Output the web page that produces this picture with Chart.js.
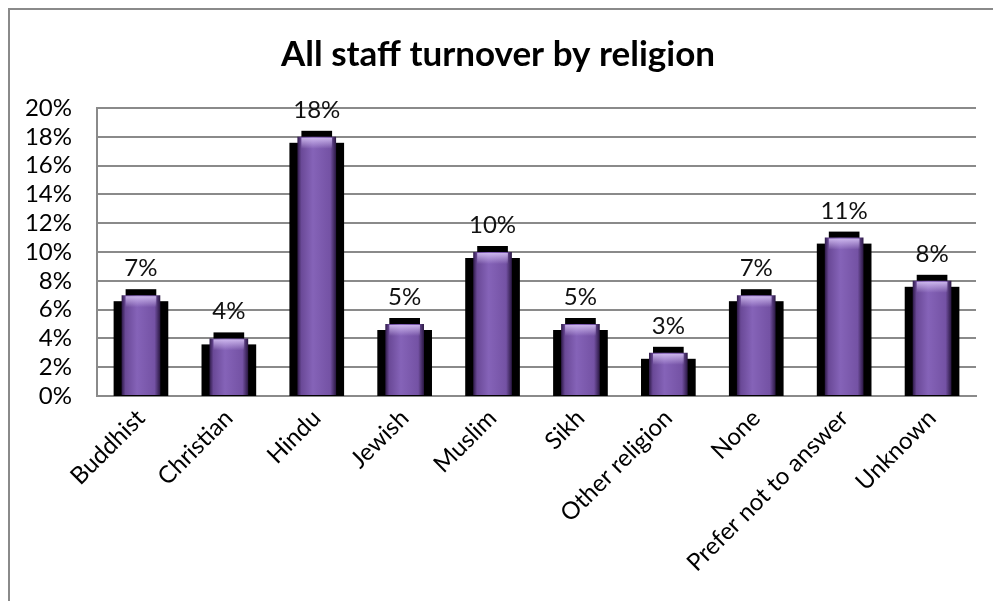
<!DOCTYPE html>
<html>
<head>
<meta charset="utf-8">
<script src="https://cdn.jsdelivr.net/npm/chart.js@4.4.1/dist/chart.umd.min.js"></script>
<style>
    html, body { margin: 0; padding: 0; background: #fff; }
    #wrap { position: relative; width: 993px; height: 601px; }
    #frame {
        position: absolute; left: 8px; top: 8px; right: -10px; bottom: -10px;
        border-left: 2px solid #8a8a8a; border-top: 2px solid #8a8a8a;
        pointer-events: none;
    }
</style>
</head>
<body>
<div id="wrap">
    <canvas id="chart" width="993" height="601"></canvas>
    <div id="frame"></div>
</div>
<script>
// Data
const religions = ["Buddhist", "Christian", "Hindu", "Jewish", "Muslim", "Sikh",
    "Other religion", "None", "Prefer not to answer", "Unknown"];
const turnover = [0.07, 0.04, 0.18, 0.05, 0.10, 0.05, 0.03, 0.07, 0.11, 0.08];
const yTicks = [0, 0.02, 0.04, 0.06, 0.08, 0.10, 0.12, 0.14, 0.16, 0.18, 0.20];

const FONT = "Lato, 'Open Sans', sans-serif";
const BAR_PCT = 0.44;

// purple fill with darker edges, built per bar from the x scale
function barFill(ctx) {
    const chart = ctx.chart;
    const xs = chart.scales.x;
    if (!chart.chartArea || !xs) return "#7b58ab";
    const cx = xs.getPixelForValue(ctx.dataIndex);
    const half = xs.width / religions.length * BAR_PCT / 2;
    const g = chart.ctx.createLinearGradient(cx - half, 0, cx + half, 0);
    g.addColorStop(0, "#2e1a48");
    g.addColorStop(0.1, "#6a4997");
    g.addColorStop(0.4, "#8563b8");
    g.addColorStop(0.85, "#7452a4");
    g.addColorStop(1, "#2a1742");
    return g;
}

// black 3D-ish backing behind each bar, plus highlight and value labels
const shadowPlugin = {
    id: "shadow",
    beforeDatasetsDraw(chart) {
        const c = chart.ctx;
        const meta = chart.getDatasetMeta(0);
        c.save();
        c.fillStyle = "#000";
        meta.data.forEach((bar) => {
            const w = bar.width;
            c.fillRect(bar.x - w / 2 + 4, bar.y - 6, w - 8, 10);
            c.fillRect(bar.x - w / 2 - 8, bar.y + 6, w + 16, bar.base - bar.y - 5);
        });
        c.restore();
    },
    afterDatasetsDraw(chart) {
        const c = chart.ctx;
        const meta = chart.getDatasetMeta(0);
        c.save();
        meta.data.forEach((bar, i) => {
            const w = bar.width;
            const left = bar.x - w / 2;
            const g = c.createLinearGradient(0, bar.y, 0, bar.y + 12);
            g.addColorStop(0, "rgba(215,195,245,0.95)");
            g.addColorStop(1, "rgba(215,195,245,0)");
            c.fillStyle = g;
            c.fillRect(left + 4, bar.y + 1, w - 8, 11);
            c.fillStyle = "#111";
            c.font = "24px " + FONT;
            c.textAlign = "center";
            c.textBaseline = "alphabetic";
            c.fillText(Math.round(turnover[i] * 100) + "%", bar.x, bar.y - 19);
        });
        c.restore();
    }
};

new Chart(document.getElementById("chart"), {
    type: "bar",
    data: {
        labels: religions,
        datasets: [
            {
                label: "Turnover",
                data: turnover,
                backgroundColor: barFill,
                borderWidth: 0,
                categoryPercentage: 1,
                barPercentage: BAR_PCT,
            },
        ],
    },
    plugins: [shadowPlugin],
    options: {
        responsive: false,
        animation: false,
        layout: { padding: { left: 20, right: 17, top: 22, bottom: 0 } },
        plugins: {
            legend: { display: false },
            tooltip: { enabled: false },
            title: {
                display: true,
                text: "All staff turnover by religion",
                color: "#000",
                font: { family: FONT, size: 35, weight: "bold", lineHeight: 1.2 },
                padding: { top: 12, bottom: 32 },
            },
        },
        scales: {
            x: {
                grid: { display: false, drawTicks: false },
                border: { color: "#8a8a8a", width: 2 },
                afterFit(axis) { axis.height = 205; },
                ticks: {
                    color: "#000",
                    font: { family: FONT, size: 24 },
                    minRotation: 45,
                    maxRotation: 45,
                    padding: 8,
                    autoSkip: false,
                },
            },
            y: {
                min: 0,
                max: 0.2,
                afterBuildTicks(axis) {
                    axis.ticks = yTicks.map((v) => ({ value: v }));
                },
                afterFit(axis) { axis.width = 77; },
                grid: { color: "#8a8a8a", lineWidth: 2, drawTicks: false },
                border: { color: "#8a8a8a", width: 2 },
                ticks: {
                    color: "#000",
                    font: { family: FONT, size: 24 },
                    padding: 25,
                    autoSkip: false,
                    callback: (v) => Math.round(v * 100) + "%",
                },
            },
        },
    },
});
</script>
</body>
</html>
